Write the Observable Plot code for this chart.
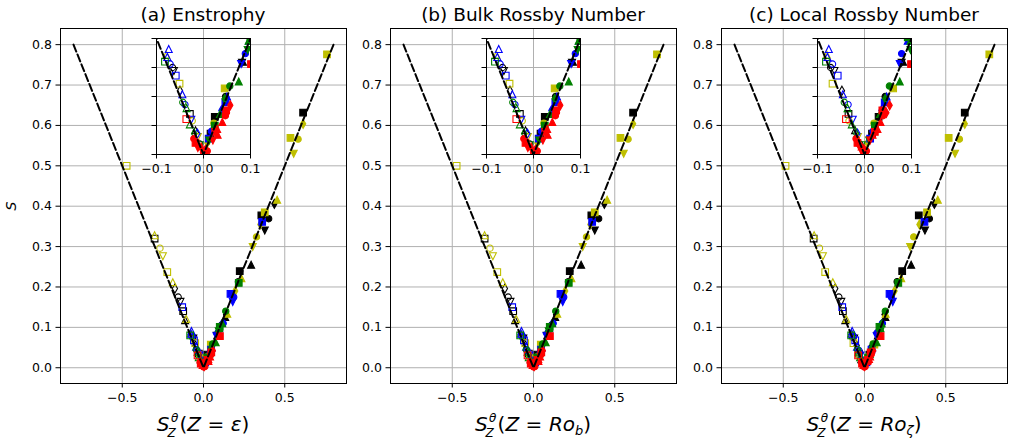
<!DOCTYPE html>
<html><head><meta charset="utf-8">
<script src="https://cdn.jsdelivr.net/npm/d3@7"></script>
<script src="https://cdn.jsdelivr.net/npm/@observablehq/plot@0.6"></script>
<style>
html,body{margin:0;padding:0;background:#fff;}
#fig{position:relative;width:1009px;height:442px;overflow:hidden;font-family:"DejaVu Sans";}
#fig > svg{position:absolute;}
</style></head><body><div id="fig"></div>
<script>
// ---------- data ----------
// each row: [marker, open(1)/filled(0), S, x for panel a, x for panel b, x for panel c]
const yellowPts = [
  ["s",1,0.500,-0.473,-0.473,-0.486],
  ["^",1,0.328,-0.301,-0.301,-0.310],
  ["o",1,0.296,-0.268,-0.268,-0.277],
  ["v",1,0.276,-0.250,-0.250,-0.256],
  ["s",1,0.237,-0.223,-0.223,-0.242],
  ["^",1,0.212,-0.189,-0.189,-0.195],
  ["^",1,0.121,-0.106,-0.106,-0.112],
  ["^",1,0.086,-0.079,-0.079,-0.080],
  ["s",1,0.061,-0.051,-0.051,-0.068],
  ["o",1,0.029,-0.024,-0.024,-0.033],
  ["v",1,0.015,-0.012,-0.012,-0.014],
  ["s",0,0.776,0.760,0.760,0.768],
  ["d",0,0.604,0.613,0.613,0.617],
  ["s",0,0.569,0.535,0.535,0.518],
  ["o",0,0.566,0.582,0.582,0.584],
  ["v",0,0.530,0.555,0.555,0.557],
  ["^",0,0.416,0.453,0.453,0.451],
  ["s",0,0.385,0.377,0.377,0.385],
  ["d",0,0.355,0.350,0.350,0.338],
  ["o",0,0.324,0.326,0.326,0.303],
  ["v",0,0.299,0.303,0.303,0.281],
  ["^",0,0.222,0.233,0.233,0.226],
  ["d",0,0.190,0.195,0.195,0.185],
  ["^",0,0.134,0.146,0.146,0.130],
  ["s",0,0.057,0.045,0.045,0.061],
  ["o",0,0.027,0.022,0.022,0.020],
  ["d",0,0.010,0.008,0.008,0.006]
];
const blackPts = [
  ["s",1,0.320,-0.301,-0.301,-0.313],
  ["d",1,0.196,-0.176,-0.176,-0.180],
  ["o",1,0.175,-0.156,-0.156,-0.158],
  ["v",1,0.163,-0.142,-0.142,-0.143],
  ["s",1,0.140,-0.125,-0.125,-0.133],
  ["^",1,0.118,-0.113,-0.113,-0.118],
  ["o",1,0.075,-0.066,-0.066,-0.072],
  ["v",1,0.072,-0.063,-0.063,-0.064],
  ["d",1,0.055,-0.050,-0.050,-0.048],
  ["s",1,0.035,-0.029,-0.029,-0.034],
  ["^",1,0.021,-0.017,-0.017,-0.020],
  ["o",1,0.009,-0.008,-0.008,-0.010],
  ["s",0,0.632,0.613,0.613,0.617],
  ["d",0,0.406,0.436,0.436,0.430],
  ["s",0,0.377,0.356,0.356,0.334],
  ["o",0,0.369,0.401,0.401,0.399],
  ["v",0,0.340,0.377,0.377,0.372],
  ["^",0,0.255,0.293,0.293,0.287],
  ["s",0,0.239,0.223,0.223,0.232],
  ["o",0,0.213,0.215,0.215,0.201],
  ["d",0,0.132,0.139,0.139,0.123],
  ["^",0,0.126,0.133,0.133,0.128],
  ["d",0,0.100,0.098,0.098,0.096],
  ["^",0,0.080,0.084,0.084,0.082],
  ["v",0,0.079,0.082,0.082,0.079],
  ["o",0,0.050,0.047,0.047,0.044],
  ["s",0,0.0325,0.024,0.024,0.030],
  ["s",0,0.018,0.015,0.015,0.016]
];
const bluePts = [
  ["s",1,0.150,-0.131,-0.131,-0.137],
  ["^",1,0.091,-0.074,-0.074,-0.076],
  ["^",1,0.084,-0.077,-0.077,-0.079],
  ["o",1,0.078,-0.071,-0.071,-0.068],
  ["s",1,0.068,-0.059,-0.059,-0.057],
  ["^",1,0.052,-0.045,-0.045,-0.046],
  ["o",1,0.043,-0.0395,-0.0395,-0.035],
  ["v",1,0.030,-0.026,-0.026,-0.025],
  ["d",1,0.018,-0.013,-0.013,-0.015],
  ["s",0,0.361,0.361,0.361,0.369],
  ["s",0,0.183,0.166,0.166,0.154],
  ["o",0,0.175,0.186,0.186,0.165],
  ["v",0,0.163,0.180,0.180,0.174],
  ["o",0,0.110,0.121,0.121,0.110],
  ["^",0,0.098,0.097,0.097,0.092],
  ["o",0,0.087,0.089,0.089,0.079],
  ["v",0,0.078,0.080,0.080,0.075],
  ["^",0,0.050,0.050,0.050,0.047],
  ["s",0,0.045,0.0465,0.0465,0.043],
  ["d",0,0.038,0.038,0.038,0.036],
  ["o",0,0.020,0.017,0.017,0.018],
  ["s",0,0.0136,0.011,0.011,0.012]
];
const greenPts = [
  ["s",1,0.080,-0.082,-0.082,-0.082],
  ["o",1,0.045,-0.044,-0.044,-0.043],
  ["^",1,0.040,-0.036,-0.036,-0.036],
  ["^",1,0.026,-0.029,-0.029,-0.027],
  ["d",1,0.018,-0.020,-0.020,-0.018],
  ["v",1,0.008,-0.008,-0.008,-0.006],
  ["s",0,0.210,0.217,0.217,0.208],
  ["o",0,0.140,0.137,0.137,0.128],
  ["^",0,0.110,0.115,0.115,0.105],
  ["s",0,0.101,0.100,0.100,0.092],
  ["^",0,0.098,0.096,0.096,0.098],
  ["v",0,0.090,0.094,0.094,0.098],
  ["^",0,0.063,0.075,0.075,0.075],
  ["o",0,0.059,0.056,0.056,0.053],
  ["d",0,0.048,0.045,0.045,0.044],
  ["^",0,0.035,0.035,0.035,0.033],
  ["s",0,0.025,0.024,0.024,0.022],
  ["v",0,0.012,0.012,0.012,0.010]
];
const redPts = [
  ["s",1,0.0305,-0.0366,-0.0366,-0.0395],
  ["s",0,0.078,0.101,0.101,0.099],
  ["d",0,0.0424,0.057,0.057,0.0535],
  ["d",0,0.036,0.050,0.050,0.0465],
  ["o",0,0.0334,0.0465,0.0465,0.0395],
  ["s",0,0.038,0.048,0.048,0.038],
  ["^",0,0.028,0.040,0.040,0.034],
  ["^",0,0.022,0.029,0.029,0.0275],
  ["s",0,0.0195,0.025,0.025,0.022],
  ["^",0,0.017,0.030,0.030,0.017],
  ["v",0,0.012,0.020,0.020,0.012],
  ["o",0,0.0136,-0.0205,-0.0205,-0.018],
  ["s",0,0.010,-0.017,-0.017,-0.015],
  ["v",0,0.0055,-0.012,-0.012,-0.010],
  ["^",0,0.007,-0.005,-0.005,-0.006],
  ["d",0,0.004,0.004,0.004,0.000],
  ["o",0,0.003,0.008,0.008,0.004],
  ["o",0,0.002,0.000,0.000,-0.002]
];
const seriesNames = ["k","y","b","g","r"];
const seriesColors = ["#000000","#bfbf00","#0000ff","#008000","#ff0000"];
const panelTitles = ["(a) Enstrophy","(b) Bulk Rossby Number","(c) Local Rossby Number"];
const panelZ = ["ε","Ro_b","Ro_ζ"];
const mainXTicks = [-0.5, 0, 0.5];
const mainYTicks = [0, 0.1, 0.2, 0.3, 0.4, 0.5, 0.6, 0.7, 0.8];
const insetXTicks = [-0.1, 0, 0.1];
const insetYTicks = [0, 0.025, 0.05, 0.075, 0.1];
const fitX = [-0.8, 0, 0.8];
const fitY = [0.8, 0, 0.8];

// ---------- build ----------
const seriesData = [blackPts, yellowPts, bluePts, greenPts, redPts];
const fitLine = fitX.map((x, i) => ({x, y: fitY[i]}));
const fmt = d => d3.format(".1f")(d).replace("-", "\u2212");

function makeSymbol(kind) {
  return {draw(ctx, size) {
    const r = Math.sqrt(size / Math.PI);
    if (kind === "s") { const h = r * 0.95; ctx.rect(-h, -h, 2 * h, 2 * h); }
    else if (kind === "o") { const c = r * 0.9; ctx.moveTo(c, 0); ctx.arc(0, 0, c, 0, 2 * Math.PI); }
    else if (kind === "^") { ctx.moveTo(0, -r); ctx.lineTo(r, r); ctx.lineTo(-r, r); ctx.closePath(); }
    else if (kind === "v") { ctx.moveTo(0, r); ctx.lineTo(r, -r); ctx.lineTo(-r, -r); ctx.closePath(); }
    else if (kind === "d") { ctx.moveTo(0, -1.3 * r); ctx.lineTo(0.75 * r, 0); ctx.lineTo(0, 1.3 * r); ctx.lineTo(-0.75 * r, 0); ctx.closePath(); }
  }};
}
const shapes = ["s", "o", "^", "v", "d"];
const symbols = Object.fromEntries(shapes.map(s => [s, makeSymbol(s)]));

function dotMarks(p, clip) {
  const marks = [];
  seriesData.forEach((rows, ci) => {
    const color = seriesColors[ci];
    for (const sh of shapes) for (const open of [1, 0]) {
      const sub = rows.filter(r => r[0] === sh && r[1] === open).map(r => ({x: r[3 + p], y: r[2]}));
      if (!sub.length) continue;
      marks.push(Plot.dot(sub, {x: "x", y: "y", r: 3.5, symbol: symbols[sh],
        fill: open ? "none" : color, stroke: color, strokeWidth: 1.1, clip}));
    }
  });
  return marks;
}

const fig = document.getElementById("fig");
const styleStr = "font-family:'DejaVu Sans';font-size:12.5px;background:none;overflow:visible;";
const centers = [203, 533, 864];

centers.forEach((cx, p) => {
  const main = Plot.plot({
    width: 350, height: 410, marginLeft: 60, marginRight: 4, marginTop: 28, marginBottom: 27,
    style: styleStr,
    x: {domain: [-0.88, 0.88]},
    y: {domain: [-0.039, 0.84]},
    marks: [
      Plot.gridX(mainXTicks, {stroke: "#b0b0b0", strokeOpacity: 1, strokeWidth: 1}),
      Plot.gridY(mainYTicks, {stroke: "#b0b0b0", strokeOpacity: 1, strokeWidth: 1}),
      ...dotMarks(p, false),
      Plot.line(fitLine, {x: "x", y: "y", stroke: "black", strokeWidth: 2, strokeDasharray: "7.4,3.2"}),
      Plot.axisX(mainXTicks, {tickSize: 4.5, tickPadding: 5, tickFormat: fmt, label: null, fontSize: 12.5}),
      Plot.axisY(mainYTicks, {tickSize: 4.5, tickPadding: 4, tickFormat: fmt, label: null, fontSize: 12.5}),
      Plot.frame({stroke: "black", strokeWidth: 1})
    ]
  });
  main.style.left = (cx - 203) + "px";
  main.style.top = "0px";
  fig.appendChild(main);

  const inset = Plot.plot({
    width: 124, height: 144, marginLeft: 15, marginRight: 15, marginTop: 4, marginBottom: 24,
    style: styleStr,
    x: {domain: [-0.1, 0.1]},
    y: {domain: [0, 0.1]},
    marks: [
      Plot.frame({fill: "white", stroke: "none"}),
      Plot.gridX(insetXTicks, {stroke: "#b0b0b0", strokeOpacity: 1, strokeWidth: 1}),
      Plot.gridY(insetYTicks, {stroke: "#b0b0b0", strokeOpacity: 1, strokeWidth: 1}),
      ...dotMarks(p, true),
      Plot.line(fitLine, {x: "x", y: "y", stroke: "black", strokeWidth: 2, strokeDasharray: "7.4,3.2", clip: true}),
      Plot.axisX(insetXTicks, {tickSize: 4.5, tickPadding: 5, tickFormat: fmt, label: null, fontSize: 12.5}),
      Plot.axisY(insetYTicks, {tickSize: 4.5, tickFormat: () => "", label: null}),
      Plot.frame({stroke: "black", strokeWidth: 1})
    ]
  });
  inset.style.left = (cx - 62) + "px";
  inset.style.top = "34px";
  fig.appendChild(inset);
});

// ---------- text overlay ----------
const ns = "http://www.w3.org/2000/svg";
const ov = document.createElementNS(ns, "svg");
ov.setAttribute("width", 1009); ov.setAttribute("height", 442);
ov.style.left = "0px"; ov.style.top = "0px";
ov.setAttribute("font-family", "DejaVu Sans");
fig.appendChild(ov);
function addText(parent, attrs, spans) {
  const t = document.createElementNS(ns, "text");
  for (const k in attrs) t.setAttribute(k, attrs[k]);
  for (const s of spans) {
    const ts = document.createElementNS(ns, "tspan");
    for (const k in s) if (k !== "t") ts.setAttribute(k, s[k]);
    ts.textContent = s.t;
    t.appendChild(ts);
  }
  parent.appendChild(t);
  return t;
}
centers.forEach((cx, p) => {
  addText(ov, {x: cx, y: 21, "text-anchor": "middle", "font-size": 18.5}, [{t: panelTitles[p]}]);
  const z = panelZ[p];
  // main part of the label (with a gap for the stacked super/subscript after S)
  const spans = [
    {t: "S", "font-style": "italic"},
    {t: "(", dx: 10},
    {t: "Z", "font-style": "italic"},
    {t: "\u2009=\u2009", dx: 2.5},
  ];
  if (z === "ε") spans.push({t: "ε", "font-style": "italic", dx: 2.5});
  else {
    spans.push({t: "Ro", "font-style": "italic", dx: 2.5});
    spans.push({t: z.slice(3), "font-style": "italic", "font-size": 13, dy: 4});
  }
  spans.push({t: ")", dy: z === "ε" ? 0 : -4});
  const lab = addText(ov, {x: cx, y: 431, "text-anchor": "middle", "font-size": 20}, spans);
  const sNode = lab.childNodes[0];
  const ext = sNode.getExtentOfChar ? sNode.getExtentOfChar(0) : null;
  const sRight = ext ? ext.x + ext.width : cx - 40;
  addText(ov, {x: sRight + 1.5, y: 422, "font-size": 12, "font-style": "italic"}, [{t: "θ"}]);
  addText(ov, {x: sRight - 2, y: 437, "font-size": 12, "font-style": "italic"}, [{t: "Z"}]);
});
addText(ov, {transform: "translate(16,206) rotate(-90)", "text-anchor": "middle", "font-size": 14, "font-style": "italic"}, [{t: "S"}]);
</script>
</body></html>
